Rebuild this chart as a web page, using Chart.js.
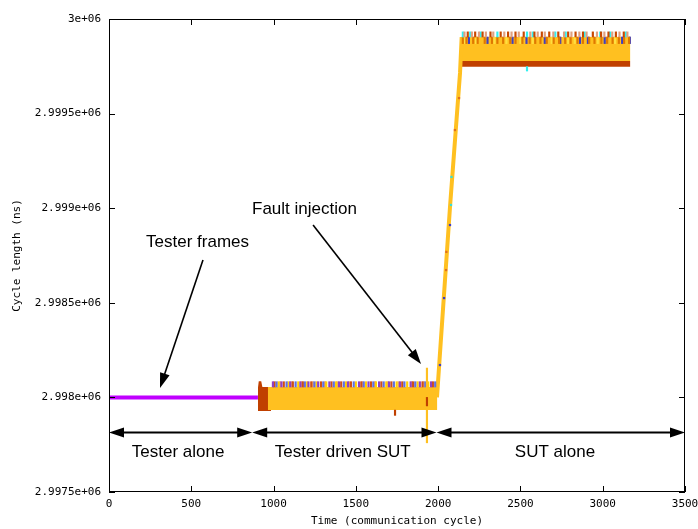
<!DOCTYPE html>
<html>
<head>
<meta charset="utf-8">
<script src="https://cdn.jsdelivr.net/npm/chart.js@4.4.0/dist/chart.umd.min.js"></script>
<style>
  html, body { margin: 0; padding: 0; background: #fff; }
  #chart { display: block; }
</style>
</head>
<body>
<canvas id="chart" width="698" height="529"></canvas>
<script>
// axes
const xTicks = [0, 500, 1000, 1500, 2000, 2500, 3000, 3500];
const xTickLabels = ["0", "500", "1000", "1500", "2000", "2500", "3000", "3500"];
const yTicks = [2997500, 2998000, 2998500, 2999000, 2999500, 3000000];
const yTickLabels = ["2.9975e+06", "2.998e+06", "2.9985e+06", "2.999e+06", "2.9995e+06", "3e+06"];
const xTitle = "Time (communication cycle)";
const yTitle = "Cycle length (ns)";

// tester frames alone
const testerX = [0, 905];
const testerY = [2998000, 2998000];

// start of tester driven phase (dark blob)
const blobX = [905, 910, 925, 932, 985];
const blobTop = [2998050, 2998085, 2998085, 2998055, 2998055];
const blobBase = 2997928;

// tester driven SUT band
const lowX = [965, 1995];
const lowTop = [2998055, 2998055];
const lowBase = 2997933;

// spikes on top of the lower band
const lowSpikePurple = [996, 1048, 1101, 1163, 1212, 1271, 1339, 1398, 1452, 1519, 1577, 1641, 1702, 1768, 1833, 1889, 1957];
const lowSpikeBlue = [1018, 1079, 1134, 1190, 1248, 1302, 1366, 1427, 1487, 1548, 1606, 1669, 1731, 1795, 1861, 1922, 1982];
const lowSpikeRed = [1006, 1062, 1117, 1178, 1229, 1288, 1352, 1411, 1470, 1533, 1592, 1655, 1716, 1782, 1848, 1905, 1968];
const lowSpikeYellow = [1030, 1090, 1150, 1204, 1260, 1320, 1380, 1440, 1500, 1562, 1622, 1685, 1748, 1812, 1875, 1940];
const lowSpikeTan = [1040, 1110, 1170, 1238, 1312, 1388, 1460, 1540, 1616, 1694, 1760, 1840, 1912];
const lowSpikeRange = [2998055, 2998083];

// fault injection spike
const faultX = [1932];
const faultRange = [2997760, 2998155];
const faultRedRange = [2997955, 2998000];
const dropX = [1738];
const dropRange = [2997905, 2997933];

// transition to SUT alone
const transX = [1993, 2005, 2072, 2133, 2143];
const transY = [2998000, 2998155, 2999006, 2999715, 2999905];
const transBlueX = [2011, 2036, 2072];
const transBlueY = [2998171, 2998525, 2998911];
const transOrangeX = [2048, 2050, 2102, 2127];
const transOrangeY = [2998673, 2998769, 2999413, 2999582];
const transCyanX = [2078, 2081];
const transCyanY = [2999017, 2999165];

// SUT alone band
const topX = [2143, 3168];
const topTop = [2999905, 2999905];
const topMid = [2999778, 2999778];
const topBase = 2999748;

const topSpikeTan = [2160, 2205, 2248, 2290, 2335, 2402, 2446, 2490, 2560, 2605, 2648, 2700, 2765, 2810, 2858, 2902, 2965, 3010, 3058, 3102, 3150];
const topSpikeRed = [2180, 2225, 2270, 2318, 2380, 2425, 2470, 2520, 2585, 2630, 2675, 2730, 2790, 2835, 2880, 2940, 2990, 3035, 3080, 3128];
const topSpikeCyan = [2150, 2195, 2258, 2360, 2540, 2575, 2712, 2775, 2890, 2985, 3045, 3140];
const topSpikeRange = [2999905, 2999932];
const topMarkOrange = [2150, 2172, 2213, 2240, 2283, 2327, 2360, 2395, 2438, 2470, 2512, 2556, 2590, 2622, 2660, 2702, 2735, 2772, 2805, 2847, 2880, 2918, 2950, 2992, 3027, 3060, 3098, 3130, 3160];
const topMarkBlue = [2187, 2300, 2452, 2537, 2648, 2742, 2862, 2910, 3012, 3118, 3165];
const topMarkYellow = [2162, 2230, 2342, 2415, 2500, 2575, 2690, 2790, 2830, 2970, 3075];
const topMarkRange = [2999870, 2999905];
const cyanDotX = [2540];
const cyanDotRange = [2999725, 2999748];

// annotations
const rangeStarts = [0, 870, 1990];
const rangeEnds = [870, 1990, 3500];
const rangeY = 2997817;
const rangeLabels = ["Tester alone", "Tester driven SUT", "SUT alone"];
const rangeLabelX = [420, 1420, 2710];
const rangeLabelY = 2997712;
const calloutLabels = ["Tester frames", "Fault injection"];
const calloutTextX = [225, 869];
const calloutTextY = [2998821, 2998996];
const calloutFromX = [571, 1240];
const calloutFromY = [2998726, 2998911];
const calloutToX = [310, 1896];
const calloutToY = [2998050, 2998177];

const YELLOW = "#ffc020";
const DARK = "#c04000";
const axisFont = { family: '"DejaVu Sans Mono", monospace', size: 11 };
const noteFont = '17px "Liberation Sans", Arial, sans-serif';

let chart;

function band(xs, tops, base, color, order) {
    return {
        type: "line",
        data: xs.map((x, i) => ({ x: x, y: tops[i] })),
        fill: { value: base },
        backgroundColor: color,
        borderWidth: 0,
        pointRadius: 0,
        order: order
    };
}

function spikes(xs, range, color, width, order) {
    return {
        type: "bar",
        data: xs.map(x => ({ x: x, y: range })),
        backgroundColor: color,
        barThickness: width,
        grouped: false,
        borderWidth: 0,
        order: order
    };
}

function dots(xs, ys, color, order) {
    return {
        type: "scatter",
        data: xs.map((x, i) => ({ x: x, y: ys[i] })),
        pointStyle: "rect",
        pointRadius: 1.6,
        backgroundColor: color,
        borderWidth: 0,
        showLine: false,
        order: order
    };
}

function line(xs, ys, color, width, order) {
    return {
        type: "line",
        data: xs.map((x, i) => ({ x: x, y: ys[i] })),
        borderColor: color,
        borderWidth: width,
        borderCapStyle: "butt",
        pointRadius: 0,
        fill: false,
        order: order
    };
}

const datasets = [
    spikes(faultX, faultRange, YELLOW, 1.5, 1),
    spikes(faultX, faultRedRange, DARK, 1.5, 0),
    line(testerX, testerY, "#c000ff", 4, 2),
    dots(transBlueX, transBlueY, "#4040c0", 3),
    dots(transOrangeX, transOrangeY, "#e07020", 3),
    dots(transCyanX, transCyanY, "#30e0e0", 3),
    spikes(lowSpikePurple, lowSpikeRange, "#9040c0", 1.5, 5),
    spikes(lowSpikeBlue, lowSpikeRange, "#6070e0", 1.5, 5),
    spikes(lowSpikeRed, lowSpikeRange, "#d05010", 1.5, 5),
    spikes(lowSpikeYellow, lowSpikeRange, "#ffd000", 1.5, 5),
    spikes(lowSpikeTan, lowSpikeRange, "#e8a070", 1.5, 5),
    spikes(dropX, dropRange, DARK, 1.5, 5),
    spikes(topSpikeTan, topSpikeRange, "#e0a080", 1.5, 5),
    spikes(topSpikeRed, topSpikeRange, "#c84800", 1.5, 5),
    spikes(topSpikeCyan, topSpikeRange, "#30f0f0", 1.5, 5),
    spikes(topMarkOrange, topMarkRange, "#e07800", 1.5, 5),
    spikes(topMarkBlue, topMarkRange, "#4040c0", 1.5, 5),
    spikes(topMarkYellow, topMarkRange, "#ffe040", 1.5, 5),
    spikes(cyanDotX, cyanDotRange, "#30f0f0", 1.5, 5),
    line(transX, transY, YELLOW, 4, 6),
    band(lowX, lowTop, lowBase, YELLOW, 10),
    band(topX, topTop, topMid[0], YELLOW, 10),
    band(topX, topMid, topBase, DARK, 10),
    band(blobX, blobTop, blobBase, DARK, 11)
];

// filled arrow head at (tx, ty), pointing away from (fx, fy)
function arrowHead(ctx, fx, fy, tx, ty, len, half) {
    const a = Math.atan2(ty - fy, tx - fx);
    const bx = tx - len * Math.cos(a);
    const by = ty - len * Math.sin(a);
    ctx.beginPath();
    ctx.moveTo(tx, ty);
    ctx.lineTo(bx + half * Math.sin(a), by - half * Math.cos(a));
    ctx.lineTo(bx - half * Math.sin(a), by + half * Math.cos(a));
    ctx.closePath();
    ctx.fill();
}

const framePlugin = {
    id: "frame",
    afterDraw(c) {
        const { ctx, chartArea: a } = c;
        const x = c.scales.x;
        const y = c.scales.y;
        ctx.save();
        ctx.strokeStyle = "#000";
        ctx.fillStyle = "#000";
        ctx.lineWidth = 1;

        // border box
        ctx.strokeRect(Math.round(a.left) + 0.5, Math.round(a.top) + 0.5,
            Math.round(a.right - a.left) - 1, Math.round(a.bottom - a.top) - 1);

        // inward ticks on all four sides
        ctx.beginPath();
        xTicks.forEach(v => {
            const px = Math.round(x.getPixelForValue(v)) + 0.5;
            ctx.moveTo(px, a.bottom);
            ctx.lineTo(px, a.bottom - 6);
            ctx.moveTo(px, a.top);
            ctx.lineTo(px, a.top + 6);
        });
        yTicks.forEach(v => {
            const py = Math.round(y.getPixelForValue(v)) + 0.5;
            ctx.moveTo(a.left, py);
            ctx.lineTo(a.left + 6, py);
            ctx.moveTo(a.right, py);
            ctx.lineTo(a.right - 6, py);
        });
        ctx.stroke();

        // phase arrows
        ctx.lineWidth = 2;
        const ry = Math.round(y.getPixelForValue(rangeY)) + 0.5;
        rangeStarts.forEach((s, i) => {
            const x0 = x.getPixelForValue(s);
            const x1 = x.getPixelForValue(rangeEnds[i]);
            ctx.beginPath();
            ctx.moveTo(x0 + 8, ry);
            ctx.lineTo(x1 - 8, ry);
            ctx.stroke();
            arrowHead(ctx, x1, ry, x0, ry, 15, 5);
            arrowHead(ctx, x0, ry, x1, ry, 15, 5);
        });

        // callout arrows
        ctx.lineWidth = 1.6;
        calloutLabels.forEach((t, i) => {
            const fx = x.getPixelForValue(calloutFromX[i]);
            const fy = y.getPixelForValue(calloutFromY[i]);
            const tx = x.getPixelForValue(calloutToX[i]);
            const ty = y.getPixelForValue(calloutToY[i]);
            const a2 = Math.atan2(ty - fy, tx - fx);
            ctx.beginPath();
            ctx.moveTo(fx, fy);
            ctx.lineTo(tx - 8 * Math.cos(a2), ty - 8 * Math.sin(a2));
            ctx.stroke();
            arrowHead(ctx, fx, fy, tx, ty, 15, 5);
        });

        // labels
        ctx.font = noteFont;
        ctx.textBaseline = "middle";
        ctx.textAlign = "center";
        rangeLabels.forEach((t, i) => {
            ctx.fillText(t, x.getPixelForValue(rangeLabelX[i]), y.getPixelForValue(rangeLabelY));
        });
        ctx.textAlign = "left";
        calloutLabels.forEach((t, i) => {
            ctx.fillText(t, x.getPixelForValue(calloutTextX[i]), y.getPixelForValue(calloutTextY[i]));
        });
        ctx.restore();
    }
};

const ctx = document.getElementById("chart").getContext("2d");

chart = new Chart(ctx, {
    type: "line",
    data: { datasets: datasets },
    options: {
        responsive: false,
        animation: false,
        devicePixelRatio: 1,
        layout: { padding: { top: 19, right: 13, bottom: 0, left: 0 } },
        plugins: {
            legend: { display: false },
            tooltip: { enabled: false }
        },
        scales: {
            x: {
                type: "linear",
                min: 0,
                max: 3500,
                offset: false,
                grid: { display: false, drawTicks: false },
                border: { display: false },
                afterBuildTicks: s => { s.ticks = xTicks.map(v => ({ value: v })); },
                afterFit: s => {
                    s.height = 37;
                    s.paddingLeft = 0;
                    s.paddingRight = 0;
                },
                ticks: {
                    font: axisFont,
                    color: "#000",
                    padding: 6,
                    maxRotation: 0,
                    autoSkip: false,
                    callback: (v, i) => xTickLabels[i]
                },
                title: { display: true, text: xTitle, font: axisFont, color: "#000", padding: { top: 0, bottom: 1 } }
            },
            y: {
                type: "linear",
                min: 2997500,
                max: 3000000,
                grid: { display: false, drawTicks: false },
                border: { display: false },
                afterBuildTicks: s => { s.ticks = yTicks.map(v => ({ value: v })); },
                afterFit: s => { s.width = 109; },
                ticks: {
                    font: axisFont,
                    color: "#000",
                    padding: 8,
                    autoSkip: false,
                    callback: (v, i) => yTickLabels[i]
                },
                title: { display: true, text: yTitle, font: axisFont, color: "#000", padding: { top: 11, bottom: 0 } }
            }
        }
    },
    plugins: [framePlugin]
});
</script>
</body>
</html>
